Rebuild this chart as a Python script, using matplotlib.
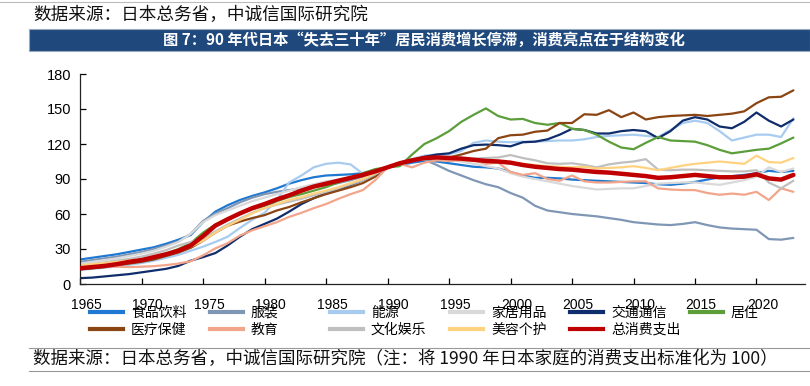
import matplotlib
matplotlib.use("Agg")
import matplotlib.pyplot as plt
from matplotlib.lines import Line2D
from matplotlib.patches import Rectangle
from matplotlib.transforms import ScaledTranslation

years = list(range(1965, 2024))

food = [21, 22.5, 24, 25.5, 27.5, 29.5, 31.5, 34.5, 38, 42, 53, 62, 67.5, 72, 75.5, 78.5, 82, 86, 89, 91.5,
        93, 93.5, 94, 95, 97, 100, 102, 104, 105.5, 105, 103.5, 102, 100.5, 100, 99, 96, 93, 91, 91, 90.5,
        89.5, 89, 88.5, 88, 87.5, 87, 86.5, 85.5, 85, 86, 87.5, 89.5, 91.5, 92.5, 93.5, 95, 97, 96, 97]
clothing = [19, 20.5, 22, 23.5, 25.5, 27.5, 30, 33, 36.5, 43, 54, 60.5, 65, 70, 74, 77, 79, 80.5, 82, 83,
            84.5, 86.5, 89, 92, 96, 100, 103.5, 106, 106.5, 102, 97, 93, 89, 85.5, 83, 78, 74, 67, 63, 61.5,
            60, 59, 58, 56.5, 55, 53, 52, 51, 50.5, 51.5, 53, 50.5, 48.5, 47.5, 47, 46.5, 38.5, 38, 39.5]
energy = [12, 13, 14, 15, 16.5, 18, 20, 22.5, 25, 28.5, 32, 36, 40.5, 48, 55, 61, 72, 87, 93, 100,
          103, 104, 102.5, 94.5, 94, 100, 104, 107, 110, 111, 111, 114, 121, 123, 122, 121.5, 122, 122, 122.5, 123,
          123, 124, 126, 127, 127.5, 128, 127, 126, 132, 138, 140, 138, 131, 123, 125.5, 128, 128, 126, 142]
household = [17.5, 19, 20.5, 22, 24, 26, 28.5, 32, 36, 43, 53, 59, 63, 67, 71, 74, 77, 80, 83, 85.5,
             88, 89.5, 91, 93, 96, 100, 104, 106, 107, 107.5, 107, 105, 103, 101, 99, 95, 92, 90, 88, 86,
             84, 82.5, 81, 81.5, 82, 82, 84, 86, 86.5, 87, 87, 86, 85, 87, 89, 92, 100, 96, 99]
transport = [5, 5.5, 6.5, 7.5, 8.5, 10, 11.5, 13, 15.5, 20, 23, 26.5, 33, 40.5, 47, 51.5, 56, 62, 68.5, 73.5,
             78, 81, 85, 89, 94, 100, 103, 106, 109, 111, 112, 116, 119, 119.5, 119, 118, 121.5, 122, 124, 128,
             133, 132, 129, 129, 131, 132, 131, 125, 131, 140, 143, 141, 135, 133.5, 139, 147, 140, 135, 141]
housing = [14, 15, 16, 17.5, 19.5, 21, 23, 26, 30, 35, 44, 51, 55.5, 60, 64, 67, 71, 74.5, 77, 80,
           83, 87, 91, 95, 98.5, 100, 101, 111, 120, 125, 131, 139, 145, 150.5, 144, 141, 141.5, 138, 136.5, 138,
           133, 132, 128, 122, 117, 115.5, 121, 126, 123, 122.5, 122, 119, 115, 112, 113.5, 115, 116, 120.5, 125.5]
medical = [12.5, 13.5, 14.5, 16, 17.5, 19, 21, 24, 27, 31, 37, 44, 50, 53.5, 56.5, 59, 63, 66, 70, 73.5,
           77, 80, 83, 86.5, 92, 100, 104, 106, 107, 108, 108.5, 111, 114, 116, 125, 127.5, 128, 130.5, 131.5, 138,
           138, 145.5, 145, 149, 143, 147, 141, 143, 144, 144.5, 145, 144, 145, 146, 148, 155, 160, 160.5, 166]
education = [14.5, 14.8, 15, 14.8, 14.5, 14.8, 15.3, 16.2, 17.5, 19.5, 24.5, 30.5, 35, 41.5, 46, 49.5, 53, 57.5, 61, 65,
             68.5, 73, 77, 80.5, 89, 100, 103, 100, 104, 106, 105.5, 106, 106, 103, 104, 96, 93.5, 95, 90, 88.5,
             93, 88, 87, 87, 87.5, 88, 88, 82, 81, 80.5, 80.5, 78, 76.5, 77.5, 76.5, 79, 72, 82, 79]
culture = [15.5, 17, 18.5, 20, 21.5, 23.5, 26, 29, 33, 36, 39.5, 45, 51, 56, 61, 65, 68, 70.5, 73, 76,
           79, 82, 85.5, 89, 94, 100, 104, 106, 107, 108, 108, 107.5, 107.5, 108, 108.5, 110.5, 108, 106, 103.5, 103,
           103.5, 102, 100, 102.5, 104, 105, 107, 98, 97.5, 98, 98, 97.5, 97, 96.5, 96.5, 97.5, 87, 82, 88.5]
beauty = [16, 17, 18, 19, 20, 21, 23, 25.5, 28.5, 32, 37, 44, 50, 55, 60.5, 65, 68.5, 72, 74.5, 77.5,
          80, 83, 86.5, 90, 95, 100, 104, 106.5, 108, 108.5, 108, 107, 106, 105.5, 105, 104, 103, 102, 101, 100.5,
          100, 100.5, 99, 99.5, 100, 101, 99.5, 97.5, 99.5, 101.5, 103, 104, 105, 104, 103, 110, 104.5, 104, 108]
total = [13.5, 14.5, 15.5, 17, 19, 20.5, 23, 25.5, 28.5, 33, 41, 50, 55.5, 60.5, 65, 68.5, 72.5, 76, 80, 83.5,
         86, 88.5, 91, 93.5, 96.5, 100, 103.5, 106, 108, 108.5, 108, 107.5, 106.5, 105.5, 105, 104, 102, 100.5, 99.5, 98.5,
         98, 97, 96, 95.5, 94.5, 93.5, 92.5, 91, 91.5, 92.5, 93.5, 92.5, 91.5, 91.5, 92, 94, 90.5, 89.5, 93.5]

series_names = ["食品饮料", "服装", "能源", "家居用品", "交通通信", "居住",
                "医疗保健", "教育", "文化娱乐", "美容个护", "总消费支出"]
series_values = [food, clothing, energy, household, transport, housing,
                 medical, education, culture, beauty, total]
series_colors = ["#1f78d1", "#7f97b5", "#a8cbf0", "#d9d9d9", "#0f2d6b", "#5b9e3a",
                 "#8b4513", "#f2a58a", "#bfbfbf", "#ffd280", "#c00000"]

x_ticks = list(range(1965, 2021, 5))
y_ticks = list(range(0, 181, 30))

title = "图 7：90 年代日本“失去三十年”居民消费增长停滞，消费亮点在于结构变化"
source_top = "数据来源：日本总务省，中诚信国际研究院"
source_bottom = "数据来源：日本总务省，中诚信国际研究院（注：将 1990 年日本家庭的消费支出标准化为 100）"

plt.rcParams['font.family'] = ['Liberation Sans', 'Noto Sans CJK SC', 'DejaVu Sans']
cjk = ['Noto Sans CJK SC', 'DejaVu Sans']

W, H = 810, 386
fig = plt.figure(figsize=(W / 100, H / 100), dpi=100)

ax = fig.add_axes([80 / W, (H - 284) / H, (805 - 80) / W, (284 - 74) / H])
lines = []
for name, vals, col in zip(series_names, series_values, series_colors):
    lw = 3.2 if name == "总消费支出" else 1.6
    z = 5 if name == "总消费支出" else 2
    ln, = ax.plot(years, vals, color=col, lw=lw, zorder=z, solid_capstyle='round')
    lines.append(ln)

ax.set_xlim(1965, 1965 + (805 - 80) / 12.3)
ax.set_ylim(0, 180)
ax.set_xticks(x_ticks)
ax.set_yticks(y_ticks)
ax.spines['top'].set_visible(False)
ax.spines['right'].set_visible(False)
for s in ('left', 'bottom'):
    ax.spines[s].set_linewidth(0.9)
    ax.spines[s].set_color('#222222')
ax.tick_params(axis='x', direction='in', length=4, width=0.9, pad=10, labelsize=10)
ax.tick_params(axis='y', direction='in', length=4.5, width=0.9, pad=6.5, labelsize=10.5)
offset = ScaledTranslation(6 / 100, 0, fig.dpi_scale_trans)
for lab in ax.get_xticklabels():
    lab.set_transform(lab.get_transform() + offset)

# legend: fixed-width columns, two rows
col_x = [90 + 120 * i for i in range(6)]
row_y = [312.5, 330]
for i, (ln, name) in enumerate(zip(lines, series_names)):
    r, c = (0, i) if i < 6 else (1, i - 6)
    fig.legend([Line2D([], [], color=ln.get_color(), lw=3.0)], [name],
               loc='center left', bbox_to_anchor=(col_x[c] / W, (H - row_y[r]) / H),
               frameon=False, borderpad=0, borderaxespad=0, handlelength=2.4,
               handletextpad=0.55, prop={'family': cjk, 'size': 10})

# header
fig.add_artist(Line2D([0, 1], [1 - 1.5 / H, 1 - 1.5 / H], color='#bbbbbb', lw=0.8))
fig.text(33 / W, (H - 15) / H, source_top, family=cjk, fontsize=12.7, color='#111111',
         ha='left', va='center')
fig.add_artist(Rectangle((29 / W, (H - 51) / H), (W - 29) / W, 22 / H, transform=fig.transFigure,
                         facecolor='#1f497d', edgecolor='#9aa9bd', lw=0.8))
fig.text(424 / W, (H - 40) / H, title, family=cjk, fontsize=11, fontweight='bold', color='white',
         ha='center', va='center')

# footer
fig.add_artist(Line2D([29 / W, 1], [(H - 348) / H] * 2, color='#999999', lw=0.8))
fig.add_artist(Line2D([29 / W, 1], [(H - 371) / H] * 2, color='#999999', lw=0.8))
fig.text(33 / W, (H - 359.5) / H, source_bottom, family=cjk, fontsize=12.6, color='#111111',
         ha='left', va='center')

fig.savefig("out.png", dpi=100)
